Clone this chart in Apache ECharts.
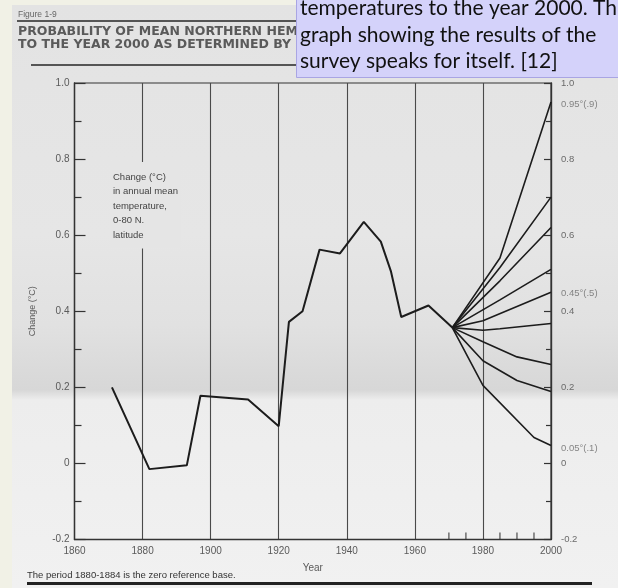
<!DOCTYPE html>
<html><head><meta charset="utf-8">
<script src="https://cdn.jsdelivr.net/npm/echarts@6/dist/echarts.min.js"></script>
<style>
html,body{margin:0;padding:0;width:618px;height:588px;overflow:hidden;background:#f1f1e6;}
#page{position:absolute;left:12px;top:5px;width:606px;height:583px;
background:linear-gradient(to bottom,#e3e3e3 0px,#e6e6e6 230px,#e1e1e1 320px,#d7d7d7 385px,#ededed 395px,#f1f1f1 583px);}
#chart{position:absolute;left:0;top:0;width:618px;height:588px;}
</style></head>
<body><div id="page"></div><div id="chart"></div>
<script>
// ---- data ----
const histYears  = [1871, 1882, 1893, 1897, 1911, 1920, 1923, 1927, 1932, 1938, 1945, 1950, 1953, 1956, 1964, 1971];
const histValues = [0.20, -0.015, -0.005, 0.178, 0.168, 0.098, 0.372, 0.40, 0.562, 0.552, 0.635, 0.583, 0.504, 0.385, 0.415, 0.357];

const fan1 = [[1971, 0.357], [1985, 0.54], [2000, 0.95]];
const fan2 = [[1971, 0.357], [1985, 0.515], [2000, 0.70]];
const fan3 = [[1971, 0.357], [1985, 0.48], [2000, 0.62]];
const fan4 = [[1971, 0.357], [1985, 0.43], [2000, 0.51]];
const fan5 = [[1971, 0.357], [1980, 0.375], [2000, 0.45]];
const fan6 = [[1971, 0.357], [1980, 0.35], [1985, 0.354], [2000, 0.368]];
const fan7 = [[1971, 0.357], [1980, 0.32], [1990, 0.28], [2000, 0.26]];
const fan8 = [[1971, 0.357], [1980, 0.27], [1990, 0.218], [2000, 0.189]];
const fan9 = [[1971, 0.357], [1980, 0.205], [1995, 0.068], [2000, 0.047]];
const fanLines = [fan1, fan2, fan3, fan4, fan5, fan6, fan7, fan8, fan9];

const fanLabelTexts  = ['0.95°(.9)', '0.45°(.5)', '0.05°(.1)'];
const fanLabelValues = [0.945, 0.447, 0.04];

const xMinorTickYears = [1970, 1975, 1985, 1990, 1995];
const yTickLabelsLeft  = {'-0.2': '-0.2', '0': '0', '0.2': '0.2', '0.4': '0.4', '0.6': '0.6', '0.8': '0.8', '1': '1.0'};
const yTickLabelsRight = {'-0.2': '-0.2', '0': '0', '0.2': '0.2', '0.4': '0.4', '0.6': '0.6', '0.8': '0.8', '1': '1.0'};

const calloutLines = ['temperatures to the year 2000. Th', 'graph showing the results of the', 'survey speaks for itself. [12]'];
const noteLines = ['Change (°C)', 'in annual mean', 'temperature,', '0-80 N.', 'latitude'];

// ---- chart ----
const FONT = 'Liberation Sans';
const chart = echarts.init(document.getElementById('chart'), null, {renderer: 'canvas'});
function keyOf(v){ return String(Math.round(v * 10) / 10); }

const series = [{
  type: 'line', xAxisIndex: 0, yAxisIndex: 0, symbol: 'none', clip: false,
  data: histYears.map((y, i) => [y, histValues[i]]),
  lineStyle: {color: '#1c1c1c', width: 2}, z: 5
}];
fanLines.forEach(d => series.push({
  type: 'line', xAxisIndex: 0, yAxisIndex: 0, symbol: 'none', clip: false,
  data: d, lineStyle: {color: '#1c1c1c', width: 1.6}, z: 5
}));
series.push({
  type: 'scatter', xAxisIndex: 0, yAxisIndex: 0, symbol: 'rect', symbolSize: [1.3, 7], symbolOffset: [0, -3.5],
  data: xMinorTickYears.map(y => [y, -0.2]), itemStyle: {color: '#333'}, silent: true, z: 4
});
series.push({
  type: 'scatter', xAxisIndex: 0, yAxisIndex: 1, symbolSize: 0, silent: true,
  data: fanLabelTexts.map((t, i) => ({name: t, value: [2000, fanLabelValues[i]]})),
  label: {show: true, position: 'right', distance: 10, formatter: '{b}', color: '#6a6a6a', fontSize: 9.5, fontFamily: FONT}
});

const option = {
  backgroundColor: 'transparent',
  animation: false,
  grid: {left: 74.5, right: 67, top: 83, bottom: 48.5, show: true, borderColor: '#333', borderWidth: 1.2},
  xAxis: [{
    type: 'value', min: 1860, max: 2000, interval: 20,
    axisLine: {show: true, onZero: false, lineStyle: {color: '#333', width: 1.3}},
    axisTick: {show: false},
    axisLabel: {color: '#5a5a5a', fontSize: 10, fontFamily: FONT, margin: 7, formatter: v => String(v)},
    splitLine: {show: true, lineStyle: {color: '#4a4a4a', width: 1.1}},
    name: 'Year', nameLocation: 'middle', nameGap: 24,
    nameTextStyle: {color: '#5a5a5a', fontSize: 10, fontFamily: FONT}
  }],
  yAxis: [{
    type: 'value', position: 'left', min: -0.2, max: 1.0, interval: 0.2,
    axisLine: {show: true, onZero: false, lineStyle: {color: '#333', width: 1.3}},
    axisTick: {show: true, inside: true, length: 11, lineStyle: {color: '#333', width: 1.2}},
    minorTick: {show: true, splitNumber: 2, length: 7, lineStyle: {color: '#333', width: 1.2}},
    splitLine: {show: false},
    axisLabel: {color: '#5a5a5a', fontSize: 10, fontFamily: FONT, margin: 5, formatter: v => yTickLabelsLeft[keyOf(v)]},
    name: 'Change (°C)', nameLocation: 'middle', nameGap: 37, nameRotate: 90,
    nameTextStyle: {color: '#5a5a5a', fontSize: 9, fontFamily: FONT}
  }, {
    type: 'value', position: 'right', min: -0.2, max: 1.0, interval: 0.2,
    axisLine: {show: true, onZero: false, lineStyle: {color: '#333', width: 1.3}},
    axisTick: {show: true, inside: true, length: 7, lineStyle: {color: '#333', width: 1.2}},
    minorTick: {show: true, splitNumber: 2, length: 5, lineStyle: {color: '#333', width: 1.2}},
    splitLine: {show: false},
    axisLabel: {color: '#6a6a6a', fontSize: 9.5, fontFamily: FONT, margin: 10, formatter: v => yTickLabelsRight[keyOf(v)]}
  }],
  series: series,
  graphic: [
    {type: 'text', left: 18, top: 10, style: {text: 'Figure 1-9', fill: '#666', font: '8.5px "Liberation Sans"'}},
    {type: 'rect', shape: {x: 17, y: 20, width: 300, height: 2}, style: {fill: '#555'}},
    {type: 'text', left: 18, top: 25, style: {text: 'PROBABILITY OF MEAN NORTHERN HEM', fill: '#5a5a5a', font: 'bold 12.5px "DejaVu Sans"'}},
    {type: 'text', left: 18, top: 38, style: {text: 'TO THE YEAR 2000 AS DETERMINED BY', fill: '#5a5a5a', font: 'bold 12.5px "DejaVu Sans"'}},
    {type: 'rect', shape: {x: 31, y: 64, width: 560, height: 2}, style: {fill: '#555'}},
    {type: 'text', x: 110, y: 162, z: 10, style: {
      text: noteLines.join('\n'), fill: '#444', font: '9.5px "Liberation Sans"', lineHeight: 14.5,
      backgroundColor: '#e5e5e5', padding: [8, 3, 6, 3]}},
    {type: 'text', left: 27, top: 570, style: {text: 'The period 1880-1884 is the zero reference base.', fill: '#333', font: '9.5px "Liberation Sans"'}},
    {type: 'rect', shape: {x: 27, y: 582, width: 565, height: 3}, style: {fill: '#222'}},
    {type: 'rect', z: 20, shape: {x: 296.5, y: -2, width: 325, height: 79.5}, style: {fill: '#d4d2fa', stroke: '#a9a5e3', lineWidth: 1}},
    {type: 'text', z: 21, x: 300, y: -5, style: {text: calloutLines.join('\n'), fill: '#111', font: '21px Lato', lineHeight: 26.5}}
  ]
};
chart.setOption(option);
</script>
</body></html>
